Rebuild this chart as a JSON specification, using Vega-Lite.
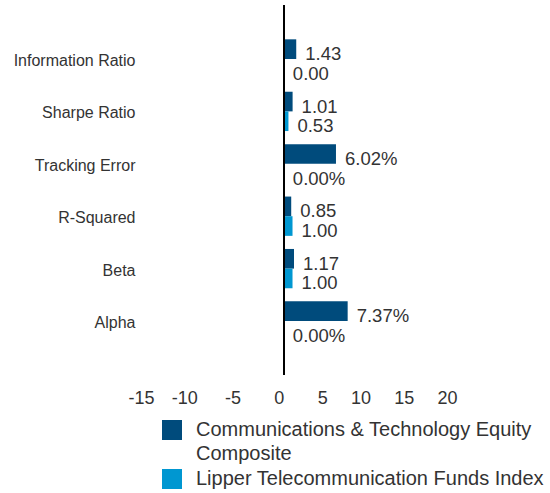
{
  "$schema": "https://vega.github.io/schema/vega-lite/v6.json",
  "width": 303,
  "height": 370,
  "autosize": {"type": "none"},
  "padding": {"left": 154, "top": 5, "right": 93, "bottom": 118},
  "background": "white",
  "config": {
    "view": {"stroke": null},
    "font": "Liberation Sans"
  },
  "data": {
    "values": [
      {"metric": "Information Ratio", "series": "Communications & Technology Equity Composite", "value": 1.43, "label": "1.43"},
      {"metric": "Information Ratio", "series": "Lipper Telecommunication Funds Index", "value": 0.0, "label": "0.00"},
      {"metric": "Sharpe Ratio", "series": "Communications & Technology Equity Composite", "value": 1.01, "label": "1.01"},
      {"metric": "Sharpe Ratio", "series": "Lipper Telecommunication Funds Index", "value": 0.53, "label": "0.53"},
      {"metric": "Tracking Error", "series": "Communications & Technology Equity Composite", "value": 6.02, "label": "6.02%"},
      {"metric": "Tracking Error", "series": "Lipper Telecommunication Funds Index", "value": 0.0, "label": "0.00%"},
      {"metric": "R-Squared", "series": "Communications & Technology Equity Composite", "value": 0.85, "label": "0.85"},
      {"metric": "R-Squared", "series": "Lipper Telecommunication Funds Index", "value": 1.0, "label": "1.00"},
      {"metric": "Beta", "series": "Communications & Technology Equity Composite", "value": 1.17, "label": "1.17"},
      {"metric": "Beta", "series": "Lipper Telecommunication Funds Index", "value": 1.0, "label": "1.00"},
      {"metric": "Alpha", "series": "Communications & Technology Equity Composite", "value": 7.37, "label": "7.37%"},
      {"metric": "Alpha", "series": "Lipper Telecommunication Funds Index", "value": 0.0, "label": "0.00%"}
    ]
  },
  "layer": [
    {
      "mark": {"type": "bar"},
      "encoding": {
        "y": {
          "field": "metric",
          "type": "nominal",
          "sort": ["Information Ratio", "Sharpe Ratio", "Tracking Error", "R-Squared", "Beta", "Alpha"],
          "scale": {"paddingInner": 0.25, "paddingOuter": 0.655},
          "axis": {
            "title": null,
            "domain": false,
            "ticks": false,
            "labelPadding": 19,
            "labelOffset": 2,
            "labelFontSize": 16,
            "labelColor": "#333333",
            "labelFont": "Liberation Sans"
          }
        },
        "yOffset": {
          "field": "series",
          "type": "nominal",
          "sort": ["Communications & Technology Equity Composite", "Lipper Telecommunication Funds Index"],
          "scale": {"paddingInner": 0, "paddingOuter": 0}
        },
        "x": {
          "field": "value",
          "type": "quantitative",
          "scale": {"domain": [-15, 20], "nice": false, "zero": false},
          "axis": {
            "title": null,
            "values": [-15, -10, -5, 0, 5, 10, 15, 20],
            "grid": false,
            "domain": false,
            "ticks": false,
            "labelPadding": 14,
            "labelAlign": "right",
            "labelOffset": 0,
            "labelFontSize": 18,
            "labelColor": "#333333",
            "labelFont": "Liberation Sans",
            "labelExpr": "replace(datum.label, '−', '-')"
          }
        },
        "color": {
          "field": "series",
          "type": "nominal",
          "sort": ["Communications & Technology Equity Composite", "Lipper Telecommunication Funds Index"],
          "scale": {
            "domain": ["Communications & Technology Equity Composite", "Lipper Telecommunication Funds Index"],
            "range": ["#004b7c", "#0097d1"]
          },
          "legend": {
            "title": null,
            "orient": "none",
            "legendX": 8,
            "legendY": 415,
            "direction": "vertical",
            "symbolType": "square",
            "symbolSize": 400,
            "symbolStrokeWidth": 0,
            "labelFontSize": 20,
            "labelColor": "#333333",
            "labelFont": "Liberation Sans",
            "labelOffset": 14,
            "labelLimit": 400,
            "rowPadding": 5,
            "padding": 0,
            "labelExpr": "datum.label == 'Communications & Technology Equity Composite' ? ['Communications & Technology Equity', 'Composite'] : datum.label",
            "encode": {"labels": {"update": {"lineHeight": {"value": 24}}}}
          }
        }
      }
    },
    {
      "mark": {"type": "text", "align": "left", "baseline": "middle", "dx": 9, "dy": 5, "fontSize": 18.5, "color": "#333333", "font": "Liberation Sans"},
      "encoding": {
        "y": {
          "field": "metric",
          "type": "nominal",
          "sort": ["Information Ratio", "Sharpe Ratio", "Tracking Error", "R-Squared", "Beta", "Alpha"]
        },
        "yOffset": {
          "field": "series",
          "type": "nominal",
          "sort": ["Communications & Technology Equity Composite", "Lipper Telecommunication Funds Index"]
        },
        "x": {"field": "value", "type": "quantitative"},
        "text": {"field": "label"}
      }
    },
    {
      "mark": {"type": "rule", "color": "#000000", "strokeWidth": 1},
      "encoding": {"x": {"datum": 0}}
    }
  ]
}
